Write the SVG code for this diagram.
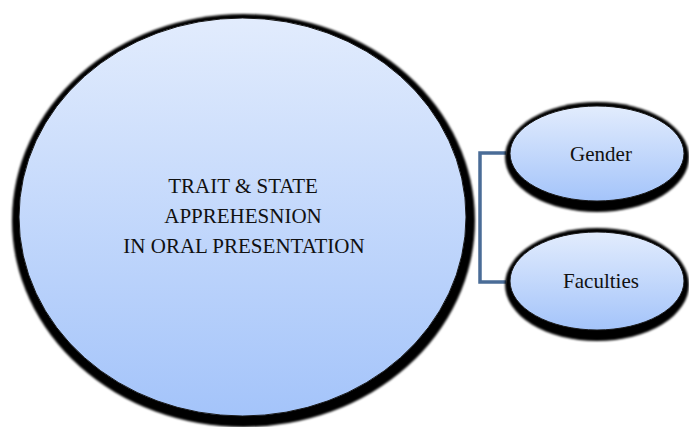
<svg xmlns="http://www.w3.org/2000/svg" width="689" height="427" viewBox="0 0 689 427">
  <defs>
    <linearGradient id="fillGrad" x1="0" y1="0" x2="0" y2="1">
      <stop offset="0" stop-color="#e2ecfd"/>
      <stop offset="1" stop-color="#a4c4fa"/>
    </linearGradient>
    <filter id="soft" x="-10%" y="-10%" width="120%" height="120%">
      <feGaussianBlur stdDeviation="0.8"/>
    </filter>
  </defs>
  <style>
    .shadow { fill: #000; filter: url(#soft); }
    .body { fill: url(#fillGrad); stroke: #1a1a1a; stroke-width: 1; }
    .label { font-size: 21px; fill: #111; text-anchor: middle; }
    .conn { fill: none; stroke: #4a6c97; stroke-width: 3.5; }
  </style>
  <rect width="689" height="427" fill="#fff"/>
  <g id="connectors">
    <path class="conn" d="M506,153 H480 V282 H506"/>
  </g>
  <g id="main" font-family="'Liberation Serif', 'Times New Roman', 'DejaVu Serif', serif">
    <ellipse class="shadow" cx="243.5" cy="220.5" rx="231.5" ry="206.5"/>
    <ellipse class="body" cx="242.5" cy="217" rx="223.5" ry="199"/>
    <text class="label" x="243" y="193">TRAIT &amp; STATE</text>
    <text class="label" x="243" y="223">APPREHESNION</text>
    <text class="label" x="244" y="253">IN ORAL PRESENTATION</text>
  </g>
  <g id="gender" font-family="'Liberation Serif', 'Times New Roman', 'DejaVu Serif', serif">
    <ellipse class="shadow" cx="597" cy="157" rx="92" ry="55"/>
    <ellipse class="body" cx="597" cy="153.5" rx="87" ry="47.5"/>
    <text class="label" x="601" y="161">Gender</text>
  </g>
  <g id="faculties" font-family="'Liberation Serif', 'Times New Roman', 'DejaVu Serif', serif">
    <ellipse class="shadow" cx="597" cy="284.5" rx="92" ry="56.5"/>
    <ellipse class="body" cx="597" cy="281" rx="87" ry="49"/>
    <text class="label" x="601" y="288">Faculties</text>
  </g>
</svg>
